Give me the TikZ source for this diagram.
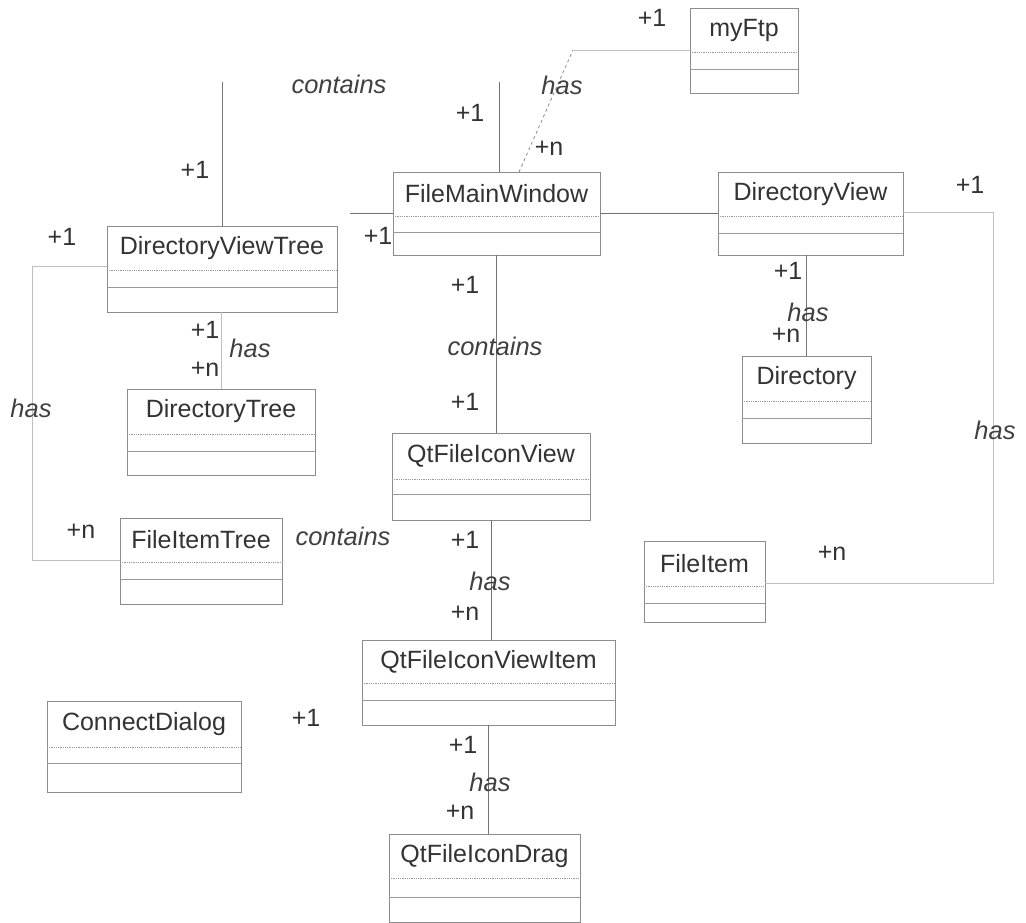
\documentclass[tikz,border=0pt]{standalone}
\usepackage{fontspec}
\setmainfont{Liberation Sans}
\usetikzlibrary{calc}

% UML class: name, x1, y1, x2, y2, first divider, second divider, title
\newcommand\umlclass[8]{%
  \pgfmathsetmacro\clsW{#4-#2}%
  \pgfmathsetmacro\clsH{#5-#3}%
  \node[classbox, anchor=north west, minimum width=\clsW pt, minimum height=\clsH pt] (#1) at (#2,#3) {};
  \node[classname] (#1-title) at ($(#2,#3)!0.5!(#4,#6)$) {#8};
  \draw[divdot] (#2,#6) -- (#4,#6);
  \draw[divline] (#2,#7) -- (#4,#7);
}

\begin{document}
\begin{tikzpicture}[x=1pt,y=-1pt,
  classbox/.style={draw=black!45, line width=0.8pt, inner sep=0pt, outer sep=0pt},
  classname/.style={font=\fontsize{25}{28}\selectfont, text=black!80, inner sep=0pt},
  divdot/.style={draw=black!40, line width=0.8pt, densely dotted},
  divline/.style={draw=black!40, line width=0.8pt},
  assoc/.style={draw=black!55, line width=0.9pt},
  faint/.style={draw=black!25, line width=0.8pt},
  mult/.style={font=\fontsize{25}{28}\selectfont, text=black!80, inner sep=0pt},
  role/.style={font=\fontsize{25.5}{28}\selectfont\itshape, text=black!75, inner sep=0pt}]
\useasboundingbox (0,0) rectangle (1026,923);

% classes
\umlclass{myftp}{690}{8}{798}{93}{52}{69}{myFtp}
\umlclass{fmw}{393}{172}{600}{255}{216}{232}{FileMainWindow}
\umlclass{dv}{718}{172}{903}{255}{216}{233}{DirectoryView}
\umlclass{dvt}{107}{226}{337}{312}{270}{287}{DirectoryViewTree}
\umlclass{dt}{127}{389}{315}{475}{434}{451}{DirectoryTree}
\umlclass{dir}{742}{356}{871}{443}{401}{418}{Directory}
\umlclass{qfiv}{392}{433}{590}{520}{479}{494}{QtFileIconView}
\umlclass{fit}{120}{518}{282}{604}{562}{579}{FileItemTree}
\umlclass{fi}{644}{541}{765}{622}{586}{603}{FileItem}
\umlclass{qfivi}{362}{640}{615}{725}{683}{700}{QtFileIconViewItem}
\umlclass{cd}{47}{701}{241}{792}{747}{763}{ConnectDialog}
\umlclass{qfid}{389}{834}{580}{922}{878}{897}{QtFileIconDrag}

% bend points of the associations
\coordinate (topL) at (222,82);
\coordinate (topR) at (499,82);
\coordinate (leftA) at (32,266);
\coordinate (leftB) at (32,560);
\coordinate (rightA) at (993,212);
\coordinate (rightB) at (993,583);
\coordinate (ftpBend) at (573,50);
\coordinate (stubL) at (350,213);
\coordinate (midRow) at (0,213);

% contains: DirectoryViewTree / FileMainWindow
\draw[assoc] (dvt.north) -- (topL);
\draw[assoc] (fmw.north -| topR) -- (topR);
\draw[assoc] (fmw.west |- stubL) -- (stubL);

% has: DirectoryViewTree / FileItemTree
\draw[faint] (dvt.west |- leftA) -- (leftA) -- (leftB) -- (fit.west |- leftB);

% has: DirectoryViewTree / DirectoryTree
\draw[faint] (dvt.south -| dt.north) -- (dt.north);

% FileMainWindow / DirectoryView
\draw[assoc] (fmw.east |- midRow) -- (dv.west |- midRow);

% contains: FileMainWindow / QtFileIconView
\draw[assoc] (fmw.south) -- (fmw.south |- qfiv.north);

% has: DirectoryView / Directory
\draw[assoc] (dv.south -| dir.north) -- (dir.north);

% has: DirectoryView / FileItem
\draw[faint] (dv.east |- rightA) -- (rightA) -- (rightB) -- (fi.east |- rightB);

% has: FileMainWindow / myFtp
\draw[faint, dashed, draw=black!45] ($(fmw.north)+(22.5,0)$) -- (ftpBend);
\draw[faint] (ftpBend) -- (myftp.west |- ftpBend);

% has: QtFileIconView / QtFileIconViewItem / QtFileIconDrag
\draw[assoc] (qfiv.south) -- (qfiv.south |- qfivi.north);
\draw[assoc] (qfivi.south) -- (qfivi.south |- qfid.north);

% role names and multiplicities
\node[role] (r1) at (339,84) {contains};
\node[mult] (m1) at (195,170) {+1};
\node[mult] (m2) at (470,113) {+1};
\node[role] (r2) at (562,85) {has};
\node[mult] (m3) at (549,148) {+n};
\node[mult] (m4) at (652,18) {+1};
\node[mult] (m5) at (62,237) {+1};
\node[mult] (m6) at (378,236) {+1};
\node[mult] (m7) at (970,185) {+1};
\node[mult] (m8) at (788,271) {+1};
\node[role] (r3) at (808,312) {has};
\node[mult] (m9) at (786,335) {+n};
\node[mult] (m10) at (205,330) {+1};
\node[role] (r4) at (250,348) {has};
\node[mult] (m11) at (205,369) {+n};
\node[role] (r5) at (31,408) {has};
\node[mult] (m12) at (465,285) {+1};
\node[role] (r6) at (495,346) {contains};
\node[mult] (m13) at (465,402) {+1};
\node[mult] (m14) at (81,531) {+n};
\node[role] (r7) at (343,536) {contains};
\node[mult] (m15) at (465,540) {+1};
\node[role] (r8) at (490,581) {has};
\node[mult] (m16) at (465,613) {+n};
\node[role] (r9) at (995,430) {has};
\node[mult] (m17) at (832,553) {+n};
\node[mult] (m18) at (306,718) {+1};
\node[mult] (m19) at (463,745) {+1};
\node[role] (r10) at (490,782) {has};
\node[mult] (m20) at (460,812) {+n};
\end{tikzpicture}
\end{document}
